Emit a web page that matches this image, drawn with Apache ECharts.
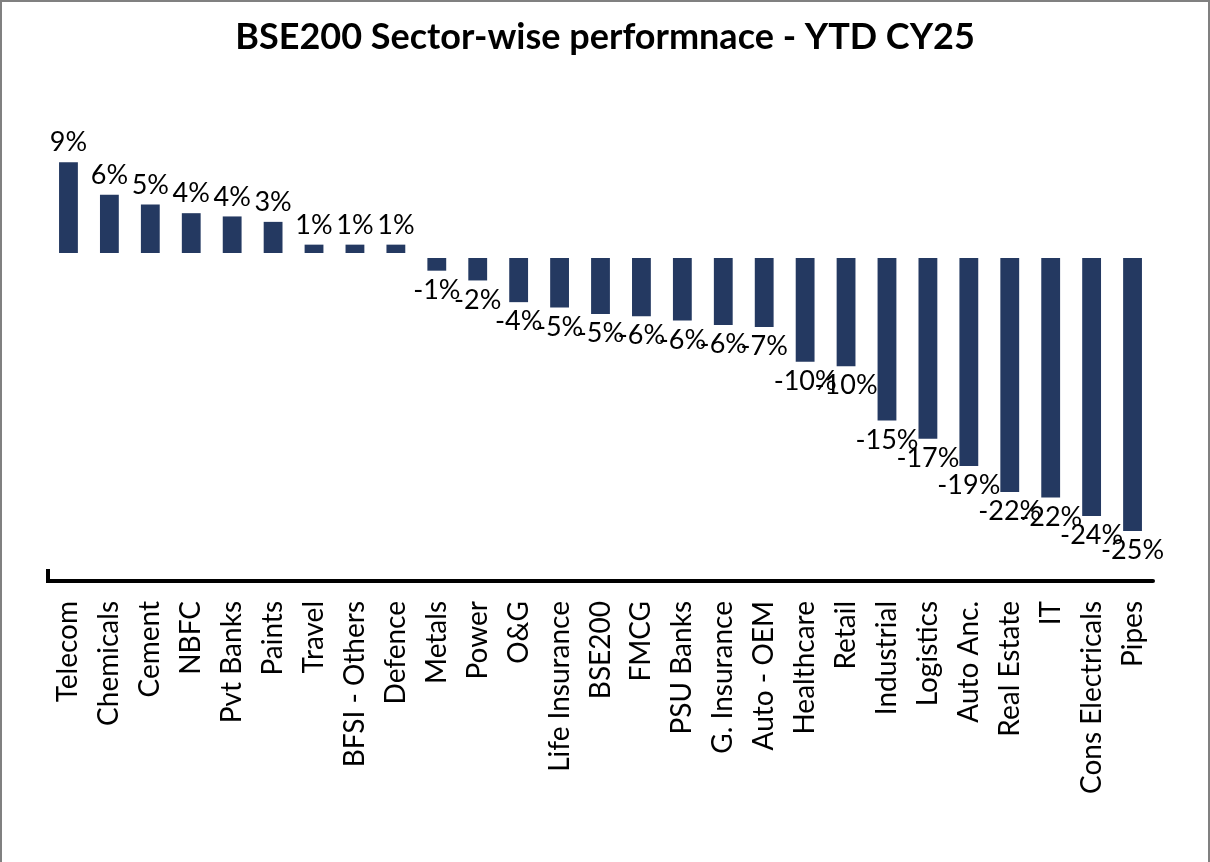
<!DOCTYPE html>
<html>
<head>
<meta charset="utf-8">
<script src="https://cdn.jsdelivr.net/npm/echarts@6/dist/echarts.min.js"></script>
<style>
  html, body { margin: 0; padding: 0; background: #fff; }
  #chart { position: absolute; left: 0; top: 0; width: 1210px; height: 862px; }
  #frame { position: absolute; left: 0; top: 0; width: 1210px; height: 870px; box-sizing: border-box;
           border: 2px solid #808080; border-bottom: none; pointer-events: none; }
</style>
</head>
<body>
<div id="chart"></div>
<div id="frame"></div>
<script>
// sectors, in chart order
const sectors = ['Telecom', 'Chemicals', 'Cement', 'NBFC', 'Pvt Banks', 'Paints', 'Travel',
  'BFSI - Others', 'Defence', 'Metals', 'Power', 'O&G', 'Life Insurance', 'BSE200', 'FMCG',
  'PSU Banks', 'G. Insurance', 'Auto - OEM', 'Healthcare', 'Retail', 'Industrial', 'Logistics',
  'Auto Anc.', 'Real Estate', 'IT', 'Cons Electricals', 'Pipes']

// YTD CY25 return, %
const ytdReturn = [8.6, 5.6, 4.7, 3.9, 3.6, 3.1, 1.0, 1.0, 1.0, -1.4, -2.3, -4.3, -4.8, -5.4, -5.6,
  -6.0, -6.4, -6.6, -9.8, -10.2, -15.2, -16.9, -19.4, -21.8, -22.3, -24.0, -25.4]

const yMin = -30
const yMax = 10

var chartDom = document.getElementById('chart')
var myChart = echarts.init(chartDom)
var font = 'Lato, "Open Sans", sans-serif'

var gridLeft = 48
var gridBottom = 281

var option = {
  animation: false,
  title: {
    text: 'BSE200 Sector-wise performnace - YTD CY25',
    left: 'center',
    top: 14,
    textStyle: { fontFamily: font, fontSize: 36, fontWeight: 'bold', color: '#000' }
  },
  grid: { left: gridLeft, right: 57, top: 147, bottom: gridBottom, containLabel: false },
  xAxis: {
    type: 'category',
    data: sectors,
    axisLine: { show: true, onZero: false, lineStyle: { color: '#000', width: 4 } },
    axisTick: { show: false },
    axisLabel: {
      interval: 0,
      rotate: 90,
      margin: 20,
      color: '#000',
      fontFamily: font,
      fontSize: 28
    }
  },
  yAxis: {
    type: 'value',
    min: yMin,
    max: yMax,
    show: false,
    splitLine: { show: false }
  },
  // small end tick on the left of the category axis
  graphic: [
    {
      type: 'line',
      shape: { x1: gridLeft, y1: 862 - gridBottom - 12, x2: gridLeft, y2: 862 - gridBottom + 2 },
      style: { stroke: '#000', lineWidth: 4 }
    }
  ],
  series: [
    {
      type: 'bar',
      data: ytdReturn.map(function (v) {
        // negative bars get their label underneath
        return v < 0 ? { value: v, label: { position: 'bottom' } } : v
      }),
      barWidth: '46%',
      itemStyle: { color: '#243961' },
      label: {
        show: true,
        position: 'top',
        distance: 6,
        color: '#000',
        fontFamily: font,
        fontSize: 27,
        formatter: function (p) { return Math.round(p.value) + '%' }
      },
      markLine: {
        silent: true,
        symbol: 'none',
        label: { show: false },
        lineStyle: { color: '#fff', width: 5, type: 'solid' },
        data: [{ yAxis: 0 }]
      }
    }
  ]
}

option && myChart.setOption(option)
</script>
</body>
</html>
